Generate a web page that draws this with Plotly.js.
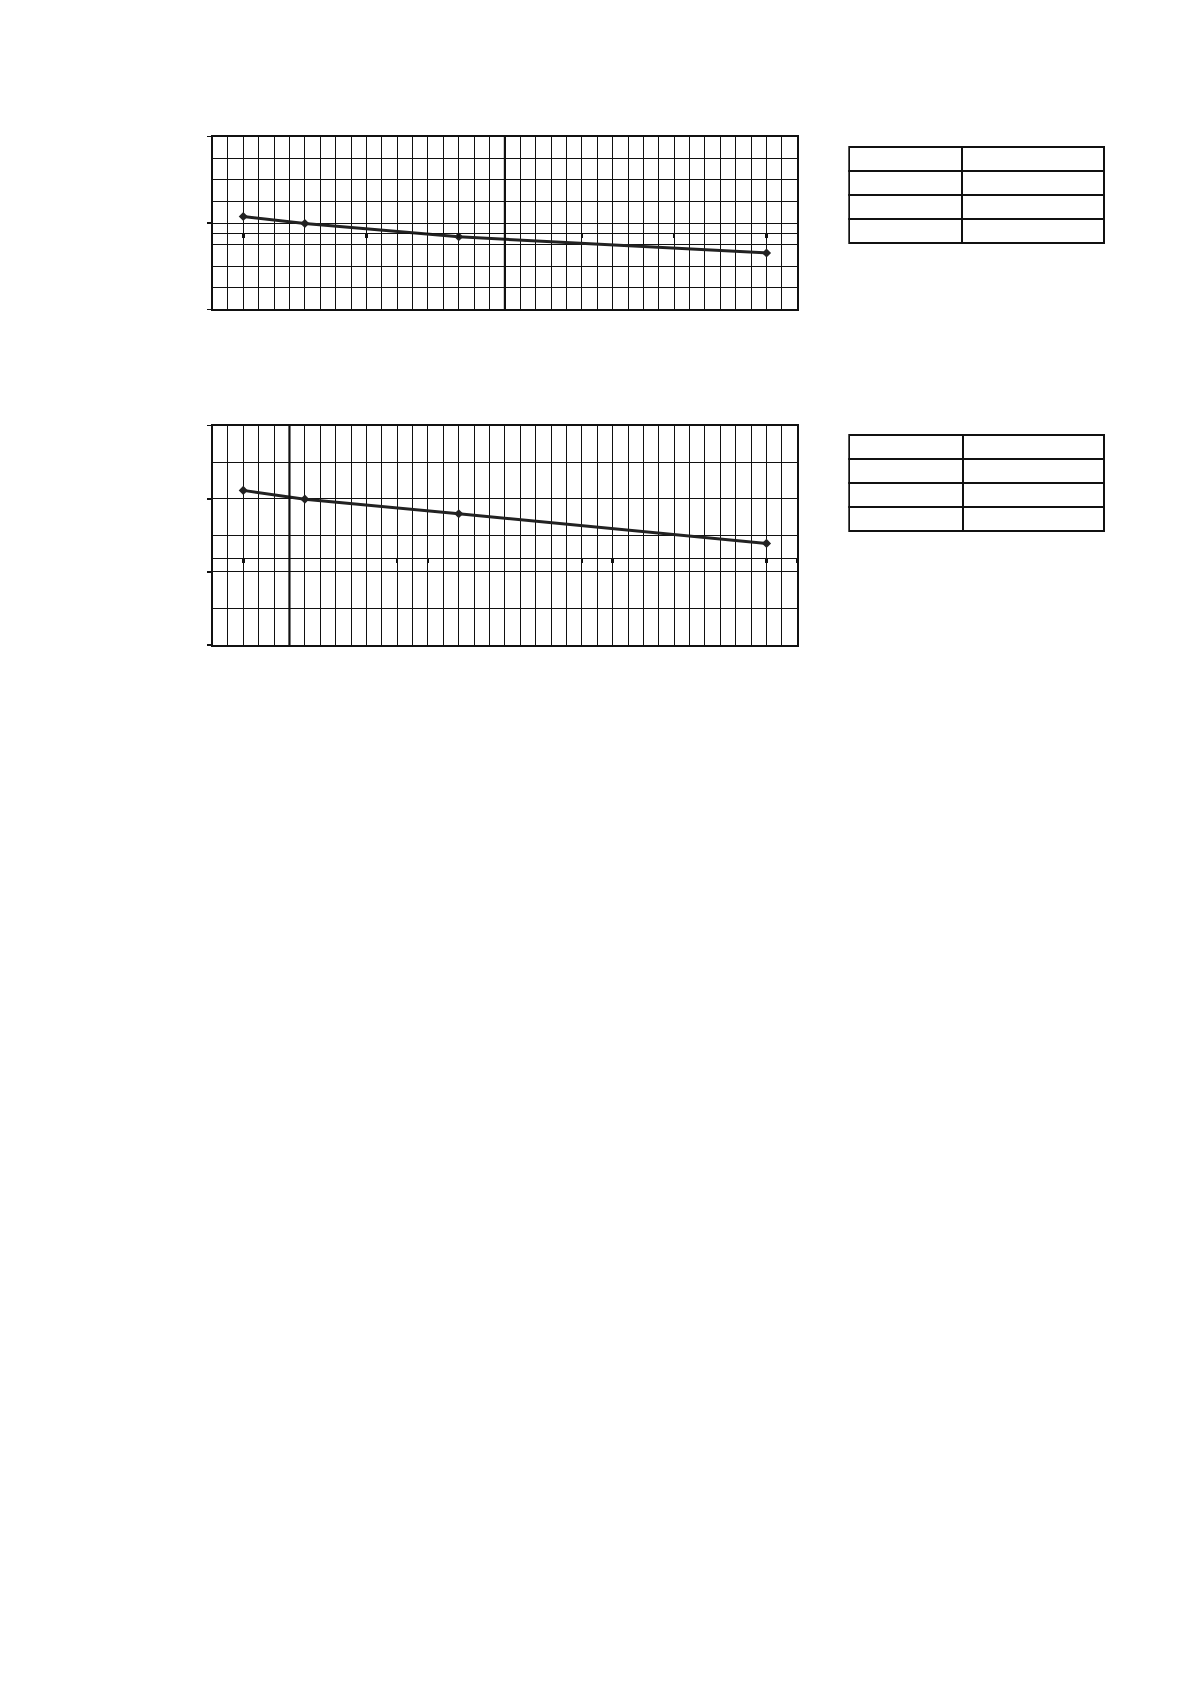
<!DOCTYPE html>
<html>
<head>
<meta charset="utf-8">
<script src="https://cdn.plot.ly/plotly-3.0.1.min.js"></script>
<style>
  body { margin: 0; background: #ffffff; }
  #chart { width: 1190px; height: 1684px; }
</style>
</head>
<body>
<div id="chart"></div>
<script>
// x positions are in grid cells (38 cells across), y in grid cells from the bottom
const xPoints = [2, 6, 16, 36];
const topValues = [4.30, 3.98, 3.36, 2.61];
const bottomValues = [4.23, 3.99, 3.59, 2.78];

// tick marks sitting on the crossing axis line
const topAxisTicks = [2, 10, 16, 24, 30, 36];
const bottomAxisTicks = [2, 12, 14, 24, 26, 36, 38];

// where the axes cross
const topCrossY = 3.54;
const bottomCrossY = 2.39;
const topCrossX = 19;
const bottomCrossX = 5;

// empty tables next to each chart
const tableColA = ["", "", ""];
const tableColB = ["", "", ""];
const tableHeader = [[""], [""]];

var W = 1190;
var H = 1684;
var ink = "#111111";

function px(x) { return x / W; }
function py(y) { return 1 - y / H; }

var xDom = [px(212.5), px(797.3)];
var topDom = [py(309.3), py(136.7)];
var botDom = [py(645), py(425.7)];

function crossPos(dom, range, v) {
  return dom[0] + (v - range[0]) / (range[1] - range[0]) * (dom[1] - dom[0]);
}

function gridX(dom, anchor) {
  return {
    domain: dom, anchor: anchor, range: [0, 38],
    tickmode: "linear", tick0: 0, dtick: 1,
    showgrid: true, gridcolor: ink, gridwidth: 1,
    ticks: "", showticklabels: false, zeroline: false,
    showline: true, mirror: true, linecolor: ink, linewidth: 2,
    fixedrange: true,
  };
}

function gridY(dom, anchor, top, major) {
  return {
    domain: dom, anchor: anchor, range: [0, top],
    tickmode: "linear", tick0: 0, dtick: major,
    ticks: "outside", ticklen: 4, tickwidth: 1.5, tickcolor: ink,
    showgrid: true, gridcolor: ink, gridwidth: 1,
    minor: { tick0: 0, dtick: 1, showgrid: true, gridcolor: ink, gridwidth: 1, ticks: "" },
    showticklabels: false, zeroline: false,
    showline: true, mirror: true, linecolor: ink, linewidth: 2,
    fixedrange: true,
  };
}

function tickLine(base, pos, vals) {
  return {
    overlaying: base, anchor: "free", position: pos, side: "bottom",
    range: [0, 38], tickmode: "array", tickvals: vals,
    ticks: "outside", ticklen: 4, tickwidth: 2.6, tickcolor: ink,
    showticklabels: false, showgrid: false, zeroline: false,
    showline: true, linecolor: ink, linewidth: 1,
    fixedrange: true,
  };
}

var lineStyle = { color: "#222222", width: 3 };
var markerStyle = { symbol: "diamond", size: 7, color: "#222222" };

var cellLine = { color: ink, width: 1.6 };

var traces = [
  {
    x: xPoints, y: topValues, xaxis: "x3", yaxis: "y",
    mode: "lines+markers", type: "scatter",
    line: lineStyle, marker: markerStyle, hoverinfo: "skip",
  },
  {
    x: xPoints, y: bottomValues, xaxis: "x4", yaxis: "y2",
    mode: "lines+markers", type: "scatter",
    line: lineStyle, marker: markerStyle, hoverinfo: "skip",
  },
  {
    type: "table",
    domain: { x: [px(849.3), px(1104.3)], y: [py(280), py(147)] },
    columnwidth: [113, 142],
    header: { values: tableHeader, height: 24, line: cellLine, fill: { color: "#ffffff" } },
    cells: { values: [tableColA, tableColB], height: 24, line: cellLine, fill: { color: "#ffffff" } },
  },
  {
    type: "table",
    domain: { x: [px(849.3), px(1104.3)], y: [py(570), py(435)] },
    columnwidth: [114, 141],
    header: { values: tableHeader, height: 24, line: cellLine, fill: { color: "#ffffff" } },
    cells: { values: [tableColA, tableColB], height: 24, line: cellLine, fill: { color: "#ffffff" } },
  },
];

var layout = {
  width: W,
  height: H,
  autosize: false,
  margin: { t: 0, b: 0, l: 0, r: 0, pad: 0 },
  paper_bgcolor: "#ffffff",
  plot_bgcolor: "#ffffff",
  showlegend: false,
  xaxis: gridX(xDom, "y"),
  yaxis: gridY(topDom, "x", 8, 4),
  xaxis2: gridX(xDom, "y2"),
  yaxis2: gridY(botDom, "x2", 6, 2),
  xaxis3: tickLine("x", crossPos(topDom, [0, 8], topCrossY), topAxisTicks),
  xaxis4: tickLine("x2", crossPos(botDom, [0, 6], bottomCrossY), bottomAxisTicks),
  shapes: [
    // vertical axis lines crossing inside the grids
    { type: "line", xref: "x", yref: "y domain", x0: topCrossX, x1: topCrossX, y0: 0, y1: 1, line: { color: ink, width: 2.2 } },
    { type: "line", xref: "x2", yref: "y2 domain", x0: bottomCrossX, x1: bottomCrossX, y0: 0, y1: 1, line: { color: ink, width: 2.2 } },
  ],
};

Plotly.newPlot("chart", traces, layout, { staticPlot: true });
</script>
</body>
</html>
